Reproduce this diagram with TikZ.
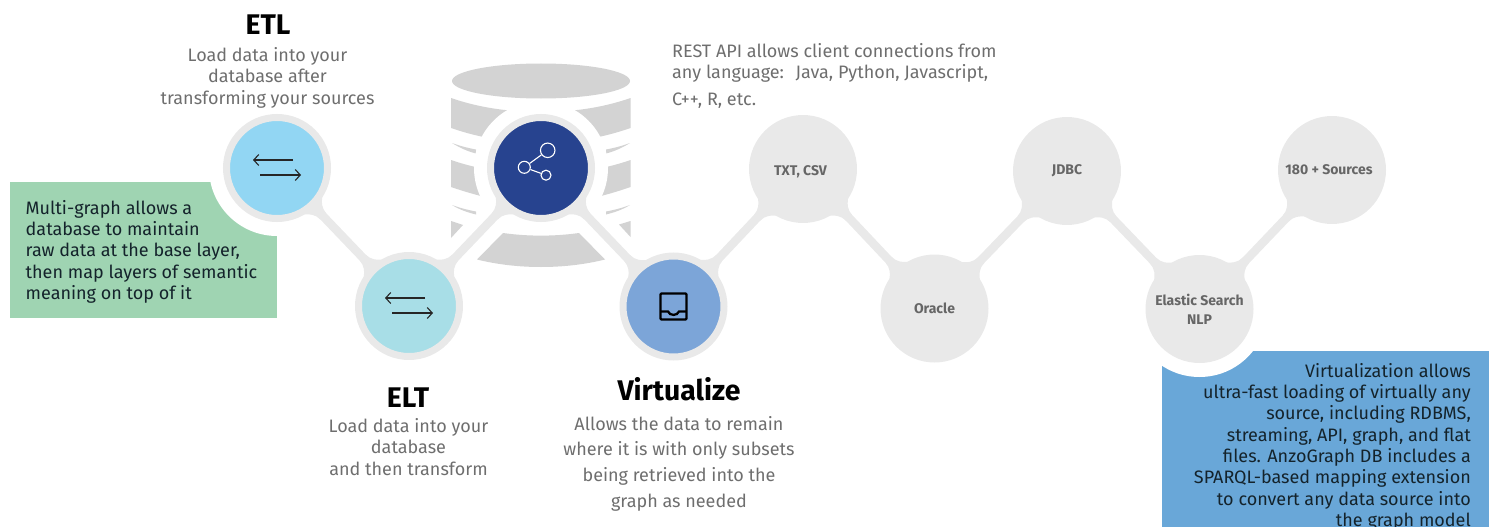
\documentclass[tikz,border=0pt]{standalone}
\usepackage{fontspec}
\setmainfont{Fira Sans}
\usetikzlibrary{calc,arrows.meta}
\pgfdeclarelayer{base}
\pgfdeclarelayer{links}
\pgfsetlayers{base,links,main}
\definecolor{ringgray}{HTML}{E9E9E9}
\definecolor{cylgray}{HTML}{D3D3D3}
\definecolor{txtgray}{HTML}{6E6E6E}
\definecolor{lblgray}{HTML}{666666}
\definecolor{inktext}{HTML}{14232B}
\definecolor{greenbox}{HTML}{9FD4B2}
\definecolor{bluebox}{HTML}{69A7D8}
\definecolor{etlblue}{HTML}{92D6F3}
\definecolor{eltblue}{HTML}{A8DEE7}
\definecolor{hubblue}{HTML}{27438F}
\definecolor{virtblue}{HTML}{7CA5D8}
\tikzset{
  hubnode/.style={circle,inner sep=0pt,minimum size=101pt,line width=7pt,draw=ringgray,fill=#1},
  srcnode/.style={circle,inner sep=0pt,minimum size=108pt,fill=ringgray,text=lblgray,align=center,
    font=\bfseries\fontsize{14}{19}\selectfont},
  linkline/.style={draw=ringgray,line width=8.5pt},
  cyl/.style={fill=cylgray,draw=none},
  title/.style={font=\bfseries\fontsize{28.4}{30}\selectfont,text=black,inner sep=0pt},
  desc/.style={font=\fontsize{18}{21.5}\selectfont,text=txtgray,align=center,inner sep=0pt},
  callout/.style={font=\fontsize{18}{21.3}\selectfont,text=inktext,inner sep=0pt},
  swap/.style={draw=black!85,line width=1.1pt,-{Straight Barb[length=5pt,width=11pt]}},
}
\newcommand{\flare}[2]{%
  \fill[ringgray] ($(#1.center)!52pt!18:(#2.center)$)
    .. controls ($(#1.center)!57pt!7:(#2.center)$) and ($(#1.center)!60pt!4.5:(#2.center)$) .. ($(#1.center)!67pt!3.6:(#2.center)$)
    -- ($(#1.center)!67pt!-3.6:(#2.center)$)
    .. controls ($(#1.center)!60pt!-4.5:(#2.center)$) and ($(#1.center)!57pt!-7:(#2.center)$) .. ($(#1.center)!52pt!-18:(#2.center)$) -- cycle;}
\newcommand{\joinnodes}[2]{\draw[linkline] (#1.center) -- (#2.center); \flare{#1}{#2}\flare{#2}{#1}}
\begin{document}
\begin{tikzpicture}[x=1pt,y=-1pt]
\useasboundingbox (0,0) rectangle (1489,527);
% nodes
\node[hubnode=etlblue] (etl) at (277,168) {};
\node[hubnode=eltblue] (elt) at (409,306) {};
\node[hubnode=hubblue] (hub) at (541,168) {};
\node[hubnode=virtblue] (virt) at (673.5,306.5) {};
\node[srcnode] (txt) at (803,169) {\hspace*{-5pt}\raisebox{-6pt}[0pt][0pt]{TXT, CSV}};
\node[srcnode] (oracle) at (934.5,308.5) {Oracle};
\node[srcnode] (jdbc) at (1067,171) {JDBC};
\node[srcnode] (elastic) at (1199.5,309) {Elastic Search\\NLP};
\node[srcnode] (more) at (1332,170) {\hspace*{-6pt}180 + Sources};
\begin{pgfonlayer}{links}
\joinnodes{etl}{elt}
\joinnodes{elt}{hub}
\joinnodes{hub}{virt}
\joinnodes{virt}{txt}
\joinnodes{txt}{oracle}
\joinnodes{oracle}{jdbc}
\joinnodes{jdbc}{elastic}
\joinnodes{elastic}{more}
\end{pgfonlayer}
\begin{pgfonlayer}{base}
% database cylinder
\fill[cyl] (541,81) ellipse [x radius=89, y radius=17.5];
\fill[cyl] (451,98) .. controls (480,108) and (510,112) .. (541,112) .. controls (572,112) and (602,108) .. (630.5,98)
  -- (630.5,128) .. controls (602,138) and (572,143) .. (541,143) .. controls (510,143) and (480,138) .. (451,128) -- cycle;
\fill[cyl] (451,160) .. controls (480,170) and (510,174) .. (541,174) .. controls (572,174) and (602,170) .. (630.5,160)
  -- (630.5,187) .. controls (602,197) and (572,204) .. (541,204) .. controls (510,204) and (480,197) .. (451,187) -- cycle;
\fill[cyl] (452,143) .. controls (460,146) and (468,148) .. (476,149.5) -- (476,153.5) .. controls (468,151.5) and (460,148) .. (452,143) -- cycle;
\fill[cyl] (630,143) .. controls (622,146) and (614,148) .. (606,149.5) -- (606,153.5) .. controls (614,151.5) and (622,148) .. (630,143) -- cycle;
\fill[cyl] (452,205) .. controls (460,208) and (468,210) .. (476,211.5) -- (476,214.5) .. controls (468,212.5) and (460,210) .. (452,205) -- cycle;
\fill[cyl] (630,205) .. controls (622,208) and (614,210) .. (606,211.5) -- (606,214.5) .. controls (614,212.5) and (622,210) .. (630,205) -- cycle;
\fill[cyl] (451,221) -- (463,225) -- (451,238) -- cycle;
\fill[cyl] (630.5,221) -- (619,224.5) -- (630.5,237) -- cycle;
\fill[cyl] (503,233) .. controls (528,236.5) and (554,236.5) .. (579,233) -- (605,259.5) .. controls (565,269.5) and (517,269.5) .. (477,259.5) -- cycle;
\fill[white] (hub.center) circle [radius=67];
% callout boxes with circular bites
\fill[greenbox] (10,182) rectangle (277,318);
\fill[white] (etl.center) circle [radius=68];
\fill[bluebox] (1162,351) rectangle (1489,527);
\fill[white] (elastic.center) circle [radius=68];
\end{pgfonlayer}
% icons
\coordinate (a1) at ($(etl.center)+(16,-8)$); \coordinate (a2) at ($(etl.center)+(-24,-8)$);
\coordinate (a3) at ($(etl.center)+(-17,7)$); \coordinate (a4) at ($(etl.center)+(24,7)$);
\draw[swap] (a1) -- (a2); \draw[swap] (a3) -- (a4);
\coordinate (b1) at ($(elt.center)+(16,-8)$); \coordinate (b2) at ($(elt.center)+(-24,-8)$);
\coordinate (b3) at ($(elt.center)+(-17,7)$); \coordinate (b4) at ($(elt.center)+(24,7)$);
\draw[swap] (b1) -- (b2); \draw[swap] (b3) -- (b4);
\begin{scope}[shift={(hub.center)},draw=white,line width=1.1pt]
\node[circle,draw=white,line width=1.1pt,inner sep=0pt,minimum size=14.5pt] (s1) at (6.7,-17.7) {};
\node[circle,draw=white,line width=1.1pt,inner sep=0pt,minimum size=12pt] (s2) at (-16.7,-0.7) {};
\node[circle,draw=white,line width=1.1pt,inner sep=0pt,minimum size=10pt] (s3) at (5,7.2) {};
\draw (s2) -- (s1); \draw (s2) -- (s3);
\end{scope}
\begin{scope}[shift={(virt.center)},line width=2.3pt,draw=black]
\draw[rounded corners=1pt] (-13,-13) rectangle (13,13);
\draw (-13,5) -- (-5.5,5) .. controls (-4,9.5) and (4,9.5) .. (5.5,5) -- (13,5);
\end{scope}
% headings and text
\node[title] (t1) at (268,25) {ETL};
\node[desc] (d1) at (267.5,77.5) {Load data into your\\database after\\transforming your sources};
\node[title] (t2) at (408,397.5) {ELT};
\node[desc] (d2) at (408.5,447) {Load data into your\\database\\and then transform};
\node[title] (t3) at (679,389) {Virtualize};
\node[desc,font=\fontsize{18}{25.6}\selectfont] (d3) at (679,463.5) {Allows the data to remain\\where it is with only subsets\\being retrieved into the\\graph as needed};
\node[desc,align=left,anchor=north west] (r1) at (672,43) {REST API allows client connections from\\any language:\ \ \hspace{2pt}Java, Python, Javascript,};
\node[desc,anchor=north west] (r2) at (672,92.5) {C++, R, etc.};
\node[callout,align=left,anchor=north west] (g1) at (25.5,200) {Multi-graph allows a\\database to maintain\\raw data at the base layer,\\then map layers of semantic\\meaning on top of it};
\node[callout,align=right,anchor=north east] (b1box) at (1471,363) {Virtualization allows\\ultra-fast loading of virtually any\\source, including RDBMS,\\streaming, API, graph, and flat\\files. AnzoGraph DB includes a\\SPARQL-based mapping extension\\to convert any data source into\\the graph model};
\end{tikzpicture}
\end{document}
